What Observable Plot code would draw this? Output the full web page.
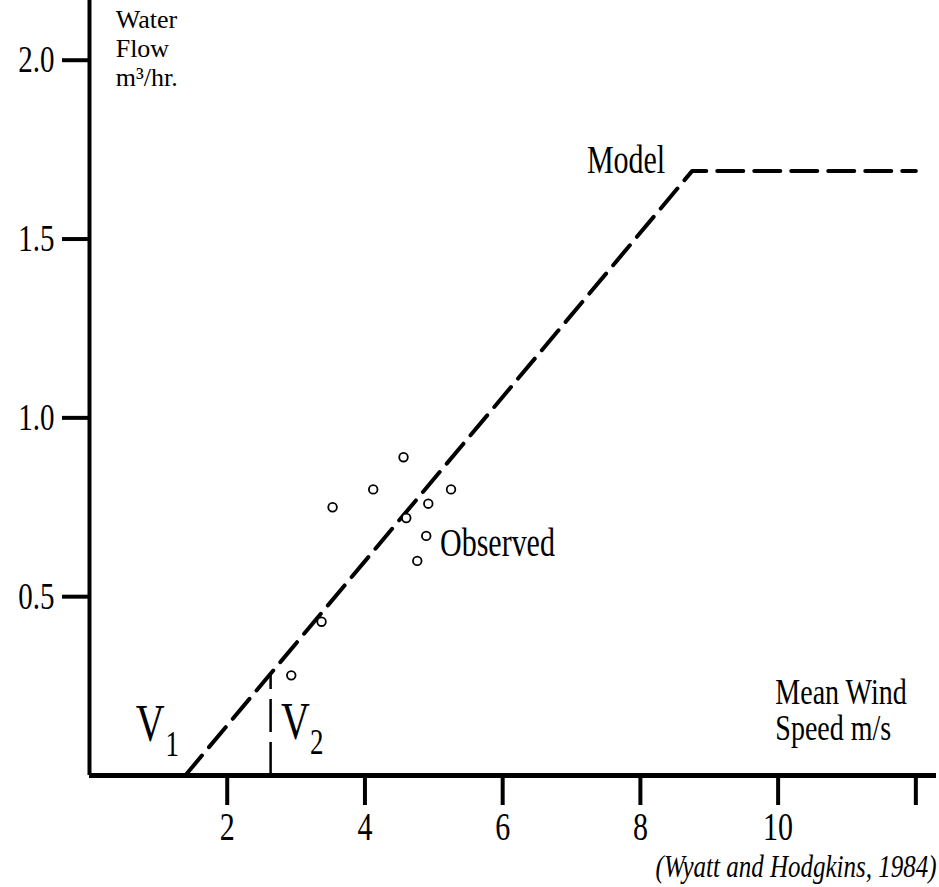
<!DOCTYPE html>
<html>
<head>
<meta charset="utf-8">
<script src="https://cdn.jsdelivr.net/npm/d3@7"></script>
<script src="https://cdn.jsdelivr.net/npm/@observablehq/plot@0.6"></script>
<style>
  html, body { margin: 0; padding: 0; background: #fff; }
  #chart { width: 939px; height: 887px; }
</style>
</head>
<body>
<div id="chart"></div>
<script>
// ---- data ----
// Model relation: water flow (m3/hr) vs mean wind speed (m/s)
const modelSpeed = [1.39, 8.75, 12.0];
const modelFlow  = [0.0, 1.69, 1.69];

// Observed measurements
const obsSpeed = [2.93, 3.37, 3.53, 4.12, 4.56, 4.60, 4.76, 4.89, 4.92, 5.25];
const obsFlow  = [0.28, 0.43, 0.75, 0.80, 0.89, 0.72, 0.60, 0.67, 0.76, 0.80];

// Threshold speed V2 (where the model line reaches its value)
const v2Speed = [2.63];
const v2Flow  = [0.285];

// Axis ticks
const xTicks = [2, 4, 6, 8, 10, 12];
const xTickLabels = ["2", "4", "6", "8", "10", ""];
const yTicks = [0.5, 1.0, 1.5, 2.0];
const yTickLabels = ["0.5", "1.0", "1.5", "2.0"];

// Annotations (data coordinates)
const modelNote = [{text: "Model", x: 8.36, y: 1.72}];
const obsNote = [{text: "Observed", x: 5.09, y: 0.648}];
const yTitle = [{text: "Water\nFlow\nm³/hr.", x: 0.38, y: 2.148}];
const xTitle = [{text: "Mean Wind\nSpeed m/s", x: 9.96, y: 0.273}];
const vLetters = [{text: "V", x: 0.88, y: 0.142}, {text: "V", x: 2.99, y: 0.15}];
const vSubs = [{text: "1", x: 1.20, y: 0.086}, {text: "2", x: 3.30, y: 0.092}];
const caption = "(Wyatt and Hodgkins, 1984)";

// ---- build tables ----
const model = modelSpeed.map((s, i) => ({speed: s, flow: modelFlow[i]}));
const obs = obsSpeed.map((s, i) => ({speed: s, flow: obsFlow[i]}));
const v2 = v2Speed.map((s, i) => ({speed: s, flow: v2Flow[i]}));

const xMax = 12.3, yMax = 2.167;

const plot = Plot.plot({
  width: 939,
  height: 887,
  marginLeft: 89,
  marginRight: 3,
  marginTop: 0,
  marginBottom: 112,
  style: {fontFamily: "'Liberation Serif', 'Times New Roman', serif", background: "#fff", color: "#000"},
  x: {domain: [0, xMax]},
  y: {domain: [0, yMax]},
  marks: [
    Plot.axisX({ticks: xTicks, tickFormat: d => xTickLabels[xTicks.indexOf(d)], tickSize: 30, tickPadding: 7,
                fontSize: 30, strokeWidth: 4, label: null}),
    Plot.axisY({ticks: yTicks, tickFormat: d => yTickLabels[yTicks.indexOf(d)], tickSize: 27, tickPadding: 8,
                fontSize: 29, strokeWidth: 4, label: null}),
    Plot.ruleX([0], {y1: 0, y2: yMax, strokeWidth: 4}),
    Plot.ruleY([0], {x1: 0, x2: xMax, strokeWidth: 5}),
    Plot.line(model, {x: "speed", y: "flow", strokeWidth: 4, strokeDasharray: "26,11"}),
    Plot.ruleX(v2, {x: "speed", y1: 0, y2: "flow", strokeWidth: 2.5, strokeDasharray: "33,10"}),
    Plot.dot(obs, {x: "speed", y: "flow", r: 4.3, stroke: "black", strokeWidth: 1.8, fill: "white"}),
    Plot.text(modelNote, {x: "x", y: "y", text: "text", textAnchor: "end", fontSize: 30, lineAnchor: "middle"}),
    Plot.text(obsNote, {x: "x", y: "y", text: "text", textAnchor: "start", fontSize: 30, lineAnchor: "middle"}),
    Plot.text(yTitle, {x: "x", y: "y", text: "text", textAnchor: "start", fontSize: 26, lineAnchor: "top", lineHeight: 1.12}),
    Plot.text(xTitle, {x: "x", y: "y", text: "text", textAnchor: "start", fontSize: 28, lineAnchor: "top", lineHeight: 1.0}),
    Plot.text(vLetters, {x: "x", y: "y", text: "text", fontSize: 40, lineAnchor: "middle"}),
    Plot.text(vSubs, {x: "x", y: "y", text: "text", fontSize: 27, lineAnchor: "middle"}),
    Plot.text([caption], {frameAnchor: "bottom-right", dy: 91, fontSize: 25, fontStyle: "italic", lineAnchor: "middle"})
  ]
});

// The reference print is vertically stretched: stretch glyphs the same way
// (the stacked y-axis title keeps normal proportions to stay legible).
plot.querySelectorAll("text").forEach(t => {
  const tr = t.getAttribute("transform");
  if (tr && !t.textContent.startsWith("Water")) t.setAttribute("transform", tr + " scale(1,1.3)");
});

document.getElementById("chart").appendChild(plot);
</script>
</body>
</html>
